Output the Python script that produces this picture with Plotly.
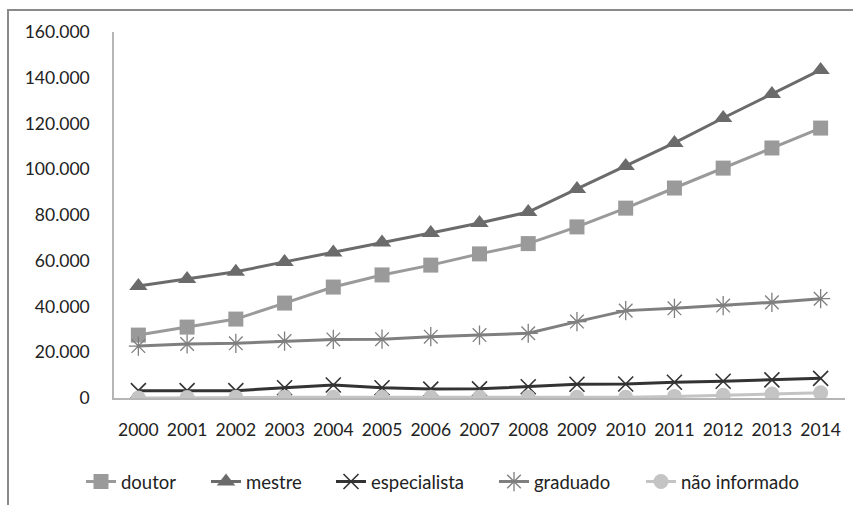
import plotly.graph_objects as go

years = [str(y) for y in range(2000, 2015)]

doutor = [27500, 31000, 34500, 41500, 48500, 53800, 58100, 63000, 67500, 74800, 83000, 91800, 100500, 109300, 118000]
mestre = [49000, 52000, 55200, 59500, 63600, 68000, 72100, 76500, 81300, 91400, 101400, 111500, 122400, 132900, 143400]
especialista = [3200, 3200, 3200, 4500, 5700, 4500, 3900, 4000, 4900, 6000, 6100, 6900, 7300, 7900, 8600]
graduado = [22700, 23600, 23900, 24900, 25600, 25700, 26800, 27500, 28300, 33400, 38200, 39200, 40400, 41800, 43400]
nao_informado = [0, 200, 300, 300, 300, 300, 300, 300, 300, 300, 300, 700, 1200, 1700, 2300]

tick_vals = [0, 20000, 40000, 60000, 80000, 100000, 120000, 140000, 160000]
tick_text = ["0", "20.000", "40.000", "60.000", "80.000", "100.000", "120.000", "140.000", "160.000"]

# plot area in pixels (left, right, top, bottom)
L, R, T, B = 114, 845, 32, 398
W, H = 853, 505
pw, ph = R - L, B - T

series = [
    ("doutor", doutor, "#9a9a9a", "square", 15, 0),
    ("mestre", mestre, "#6b6b6b", "triangle-up", 16, 0),
    ("especialista", especialista, "#333333", "x-thin-open", 15, 1.6),
    ("graduado", graduado, "#7f7f7f", "asterisk-open", 16, 1.3),
    ("não informado", nao_informado, "#c4c4c4", "circle", 15, 0),
]

# left edge (px) of each legend entry's text
legend_text_x = [122, 247, 372, 535, 682]
legend_y_px = 482
legend_text_offset = 41

font_family = "Lato, Open Sans, sans-serif"

fig = go.Figure()
legends = {}
for i, (name, vals, color, symbol, size, lw) in enumerate(series):
    marker = dict(symbol=symbol, size=size, color=color)
    if lw:
        marker["line"] = dict(color=color, width=lw)
    key = "legend" if i == 0 else f"legend{i + 1}"
    fig.add_trace(go.Scatter(
        x=years, y=vals, name=name, mode="lines+markers",
        line=dict(color=color, width=3),
        marker=marker, legend=key,
    ))
    legends[key] = dict(
        orientation="h",
        x=(legend_text_x[i] - legend_text_offset - L) / pw, xanchor="left",
        y=(B - legend_y_px) / ph, yanchor="middle",
        font=dict(family=font_family, size=18.5, color="#222222"),
        bgcolor="rgba(0,0,0,0)",
    )

fig.update_layout(
    width=W, height=H,
    margin=dict(l=L, r=W - R, t=T, b=H - B, autoexpand=False),
    paper_bgcolor="white", plot_bgcolor="white",
    font=dict(family=font_family, size=17.5, color="#222222"),
    showlegend=True,
    xaxis=dict(
        type="category", range=[-0.5, 14.5],
        showline=True, linecolor="#b5b5b5", linewidth=1.5,
        showgrid=False, ticks="", zeroline=False,
        tickfont=dict(size=17.5), ticklabelstandoff=15,
    ),
    yaxis=dict(
        range=[0, 160000], tickvals=tick_vals, ticktext=tick_text,
        showline=True, linecolor="#b5b5b5", linewidth=1.5,
        showgrid=False, ticks="", zeroline=False,
        tickfont=dict(size=17.5), ticklabelstandoff=19,
    ),
    shapes=[dict(
        type="rect", xref="paper", yref="paper",
        x0=(8 - L) / pw, x1=(W + 30 - L) / pw,
        y0=(B - H - 30) / ph, y1=(B - 10) / ph,
        line=dict(color="#8a8a8a", width=2), fillcolor="rgba(0,0,0,0)",
        layer="below",
    )],
    **legends,
)

fig.write_html("out.html")
